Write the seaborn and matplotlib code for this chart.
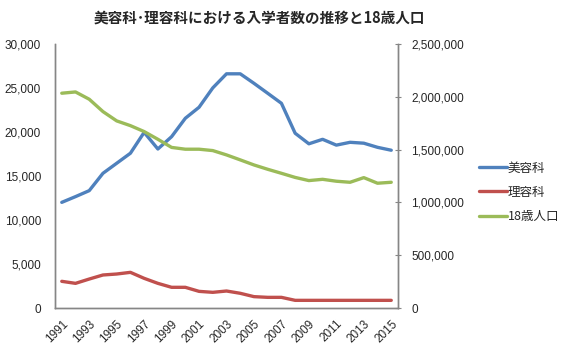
import matplotlib
matplotlib.use('agg')
import matplotlib.pyplot as plt
import numpy as np
import pandas as pd
import seaborn as sns

# data
years = list(range(1991, 2016))
biyou = [12000, 12650, 13330, 15300, 16440, 17580, 19950, 18060, 19460, 21550,
         22800, 25000, 26600, 26600, 25520, 24390, 23250, 19850, 18650, 19160,
         18500, 18820, 18720, 18250, 17920]
riyou = [3030, 2800, 3290, 3750, 3860, 4050, 3370, 2800, 2350, 2350,
         1890, 1780, 1930, 1670, 1290, 1210, 1210, 870, 870, 870,
         870, 870, 870, 870, 870]
pop18 = [2033000, 2045000, 1976000, 1859000, 1771000, 1726000, 1670000, 1597000,
         1520000, 1503000, 1503000, 1490000, 1449000, 1402000, 1354000, 1313000,
         1275000, 1236000, 1206000, 1218000, 1200000, 1190000, 1234000, 1181000,
         1190000]
left_ticks = [0, 5000, 10000, 15000, 20000, 25000, 30000]
right_ticks = [0, 500000, 1000000, 1500000, 2000000, 2500000]
year_ticks = list(range(1991, 2016, 2))

df = pd.DataFrame({'year': years, '美容科': biyou, '理容科': riyou, '18歳人口': pop18})

sns.set_style('white')
plt.rcParams['font.family'] = ['Noto Sans CJK JP', 'DejaVu Sans']

blue, red, green = '#4F81BD', '#C0504D', '#9BBB59'
grey = '#868686'
num_font = 'Liberation Sans'

fig = plt.figure(figsize=(5.72, 3.51), dpi=100)
ax = fig.add_axes([0.096, 0.1225, 0.6, 0.7525])
ax2 = ax.twinx()

sns.lineplot(data=df, x='year', y='美容科', ax=ax, color=blue, lw=2.4, label='美容科', legend=False)
sns.lineplot(data=df, x='year', y='理容科', ax=ax, color=red, lw=2.4, label='理容科', legend=False)
sns.lineplot(data=df, x='year', y='18歳人口', ax=ax2, color=green, lw=2.4, label='18歳人口', legend=False)

ax.set_xlim(1990.5, 2015.5)
ax.set_ylim(0, 30000)
ax2.set_ylim(0, 2500000)
ax.set_yticks(left_ticks)
ax2.set_yticks(right_ticks)
ax.set_xticks(year_ticks)
ax.set_yticklabels([f'{v:,}' for v in left_ticks], fontsize=8.5, family=num_font)
ax2.set_yticklabels([f'{v:,}' for v in right_ticks], fontsize=8.5, family=num_font)
ax.set_xticklabels([str(y) for y in year_ticks], fontsize=8.5, family=num_font,
                   rotation=45, ha='right', rotation_mode='anchor')
ax.set_xlabel('')
ax.set_ylabel('')
ax2.set_ylabel('')

ax.tick_params(axis='y', length=0, pad=10)
ax.tick_params(axis='x', length=0, pad=7)
ax2.tick_params(axis='y', direction='inout', length=5, width=0.8, color=grey, pad=7)

for a in (ax, ax2):
    a.spines['top'].set_visible(False)
    for s in ('left', 'bottom', 'right'):
        a.spines[s].set_color(grey)
        a.spines[s].set_linewidth(1.0)

fig.text(0.454, 0.95, '美容科･理容科における入学者数の推移と18歳人口',
         ha='center', va='center', fontsize=10.5, fontweight='bold')

h1, l1 = ax.get_legend_handles_labels()
h2, l2 = ax2.get_legend_handles_labels()
fig.legend(h1 + h2, l1 + l2, loc='center left', bbox_to_anchor=(0.829, 0.452),
           frameon=False, fontsize=9, handlelength=2.2, handletextpad=0.1,
           labelspacing=0.9, borderaxespad=0)

fig.savefig('out.png', dpi=100)
plt.close(fig)
